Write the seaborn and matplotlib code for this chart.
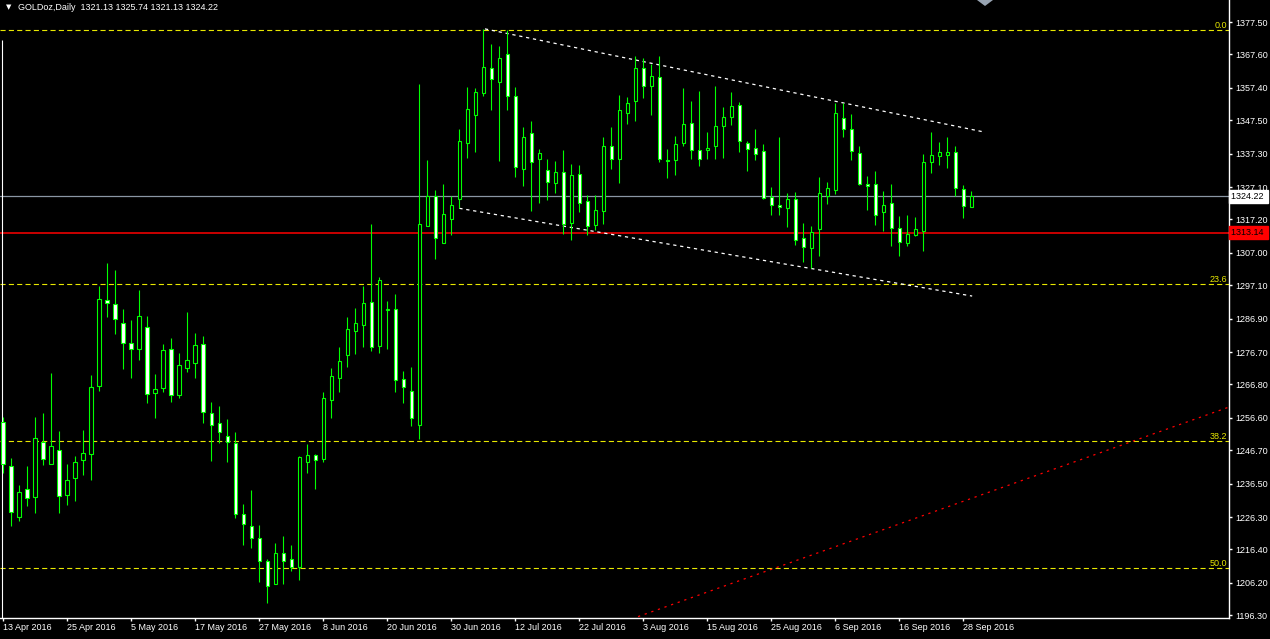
import numpy as np
import pandas as pd
import matplotlib
matplotlib.use("Agg")
import matplotlib.pyplot as plt
import matplotlib.transforms as mtransforms
from matplotlib.patches import Polygon
from matplotlib import font_manager
import seaborn as sns

# ---------------- data ----------------
symbol_title = "GOLDoz,Daily  1321.13 1325.74 1321.13 1324.22"
start_date = "2016-04-13"

open_ = [1255.24, 1241.80, 1226.43, 1234.78, 1232.33, 1249.33, 1242.41, 1246.69, 1232.95, 1238.14,
         1243.84, 1245.47, 1266.24, 1292.50, 1291.28, 1285.47, 1279.37, 1277.53, 1284.46, 1264.10,
         1265.62, 1277.53, 1263.49, 1271.73, 1273.26, 1279.06, 1257.99, 1254.93, 1250.97, 1248.83,
         1227.14, 1223.48, 1219.81, 1212.79, 1205.76, 1215.23, 1213.40, 1210.96, 1243.02, 1245.16,
         1243.94, 1261.96, 1268.68, 1275.70, 1283.03, 1284.86, 1291.89, 1278.45, 1289.60, 1289.75,
         1268.37, 1264.91, 1254.32, 1315.30, 1324.30, 1310.10, 1317.40, 1323.34, 1340.65, 1349.20,
         1355.71, 1363.35, 1359.07, 1367.73, 1354.80, 1332.71, 1343.50, 1335.76, 1332.20, 1328.23,
         1331.59, 1316.01, 1330.98, 1322.73, 1315.40, 1319.68, 1339.53, 1335.56, 1349.61, 1353.27,
         1363.35, 1357.85, 1360.60, 1335.25, 1335.25, 1340.45, 1346.55, 1338.31, 1338.31, 1339.53,
         1345.64, 1348.39, 1352.05, 1340.45, 1338.92, 1338.00, 1323.95, 1321.51, 1320.59, 1323.34,
         1311.43, 1308.38, 1314.18, 1324.26, 1326.09, 1348.08, 1344.72, 1337.39, 1327.92, 1327.92,
         1319.37, 1322.12, 1314.48, 1309.90, 1312.35, 1313.57, 1334.64, 1336.47, 1336.78, 1337.70,
         1326.40, 1321.13]
high = [1256.97, 1244.24, 1236.10, 1241.90, 1256.77, 1257.99, 1270.20, 1252.49, 1242.51, 1244.96,
        1252.90, 1269.59, 1296.98, 1303.90, 1301.76, 1289.85, 1286.49, 1295.55, 1287.71, 1269.90,
        1279.06, 1280.89, 1276.31, 1288.93, 1282.42, 1281.50, 1261.35, 1260.23, 1256.26, 1252.29,
        1230.30, 1234.57, 1223.89, 1213.40, 1218.39, 1220.53, 1217.78, 1245.06, 1248.52, 1245.50,
        1264.40, 1271.73, 1278.25, 1287.41, 1290.16, 1296.88, 1315.80, 1299.62, 1292.30, 1294.43,
        1270.92, 1272.14, 1358.56, 1335.35, 1326.19, 1328.02, 1324.36, 1344.82, 1357.65, 1357.24,
        1375.26, 1370.78, 1370.07, 1375.06, 1357.55, 1345.43, 1347.26, 1338.61, 1335.56, 1334.95,
        1338.41, 1334.13, 1333.83, 1324.56, 1324.56, 1342.38, 1345.33, 1355.10, 1354.70, 1367.22,
        1366.40, 1364.57, 1367.01, 1338.61, 1342.68, 1357.24, 1353.37, 1356.43, 1343.80, 1357.85,
        1351.44, 1356.02, 1352.97, 1341.05, 1344.72, 1340.14, 1327.01, 1342.28, 1325.18, 1325.48,
        1316.01, 1315.10, 1330.06, 1328.53, 1352.66, 1352.66, 1349.40, 1339.53, 1330.36, 1331.99,
        1325.78, 1327.92, 1318.15, 1318.45, 1317.84, 1337.08, 1343.80, 1340.75, 1342.28, 1339.53,
        1327.62, 1325.74]
low = [1239.87, 1223.68, 1225.21, 1229.69, 1227.65, 1242.21, 1242.41, 1227.45, 1229.99, 1231.32,
       1239.15, 1237.63, 1264.91, 1287.51, 1282.32, 1271.63, 1268.88, 1274.38, 1261.25, 1256.67,
       1264.60, 1261.55, 1262.77, 1270.71, 1268.88, 1255.14, 1243.53, 1248.83, 1243.23, 1226.12,
       1217.88, 1216.76, 1206.58, 1199.96, 1205.76, 1205.97, 1209.73, 1206.99, 1239.87, 1234.78,
       1243.02, 1256.67, 1264.60, 1272.24, 1276.21, 1278.35, 1277.13, 1276.52, 1277.74, 1264.60,
       1261.25, 1254.22, 1250.25, 1315.30, 1305.12, 1310.10, 1312.54, 1320.59, 1336.07, 1337.90,
       1355.00, 1350.73, 1335.15, 1350.62, 1330.26, 1327.52, 1319.88, 1322.32, 1323.14, 1325.28,
       1312.65, 1310.82, 1319.47, 1312.35, 1313.87, 1315.70, 1332.50, 1328.23, 1346.25, 1347.16,
       1354.19, 1348.99, 1334.64, 1329.76, 1330.67, 1339.53, 1335.76, 1333.42, 1335.76, 1335.76,
       1335.86, 1345.94, 1337.70, 1331.90, 1335.25, 1323.30, 1318.46, 1318.46, 1314.79, 1309.29,
       1304.10, 1302.27, 1306.14, 1321.81, 1324.87, 1342.48, 1335.45, 1327.62, 1320.18, 1315.60,
       1313.57, 1309.19, 1306.14, 1309.19, 1312.04, 1307.66, 1331.28, 1333.72, 1332.81, 1324.26,
       1317.74, 1321.13]
close = [1242.51, 1227.75, 1233.86, 1232.03, 1250.35, 1243.94, 1247.91, 1232.64, 1237.53, 1243.02,
         1245.77, 1265.93, 1292.80, 1291.58, 1286.70, 1279.37, 1277.53, 1287.61, 1263.79, 1265.32,
         1277.23, 1263.49, 1272.65, 1274.17, 1278.76, 1258.29, 1254.32, 1252.18, 1249.13, 1227.14,
         1224.09, 1219.81, 1212.79, 1205.15, 1215.23, 1212.79, 1210.96, 1244.55, 1245.16, 1243.63,
         1262.57, 1269.29, 1273.87, 1283.64, 1285.47, 1291.58, 1278.14, 1298.61, 1289.70, 1268.07,
         1265.93, 1256.46, 1315.70, 1324.30, 1311.44, 1318.86, 1321.60, 1341.05, 1350.83, 1356.02,
         1363.76, 1360.00, 1366.40, 1355.00, 1333.11, 1342.28, 1334.64, 1337.39, 1328.53, 1331.59,
         1315.70, 1330.67, 1322.12, 1315.10, 1319.98, 1339.53, 1335.56, 1350.52, 1352.86, 1363.35,
         1357.85, 1360.91, 1335.56, 1334.95, 1340.14, 1346.25, 1338.31, 1335.56, 1338.92, 1345.64,
         1348.39, 1351.75, 1341.05, 1338.61, 1337.09, 1323.65, 1321.51, 1320.90, 1323.34, 1310.82,
         1308.68, 1313.26, 1325.17, 1326.70, 1349.60, 1344.72, 1338.00, 1327.92, 1327.31, 1318.45,
         1321.51, 1314.48, 1310.21, 1312.65, 1314.18, 1334.64, 1336.78, 1337.70, 1337.70, 1326.70,
         1321.20, 1324.22]

price_ticks = [1377.50, 1367.60, 1357.40, 1347.50, 1337.30, 1327.10, 1317.20, 1307.00, 1297.10,
               1286.90, 1276.70, 1266.80, 1256.60, 1246.70, 1236.50, 1226.30, 1216.40, 1206.20, 1196.30]
date_tick_every = 8

fib_high = 1375.06
fib_low = 1046.45
fib_levels = [0.0, 23.6, 38.2, 50.0]
bid_price = 1324.22
red_level = 1313.14

# drawn objects (bar index, price)
upper_channel_x = [60.2, 122.6]
upper_channel_y = [1375.4, 1343.9]
lower_channel_x = [57.0, 121.1]
lower_channel_y = [1320.6, 1293.8]
red_trend_x = [79.34, 153.2]
red_trend_y = [1195.9, 1259.9]

# ---------------- style ----------------
sns.set_theme(style="dark")
names = {f.name for f in font_manager.fontManager.ttflist}
if "Liberation Sans Narrow" in names:
    base_font, fsize = "Liberation Sans Narrow", 7.3
else:
    base_font, fsize = "Liberation Sans", 6.5
plt.rcParams["font.family"] = [base_font, "DejaVu Sans"]

GREEN = "#00ff00"
YELLOW = "#e8e800"
PX = 0.72  # one pixel in points at dpi 100

df = pd.DataFrame({"open": open_, "high": high, "low": low, "close": close})
df["date"] = pd.bdate_range(start_date, periods=len(df))
df["x"] = np.arange(len(df))
df["bull"] = df["close"] >= df["open"]

W, H = 1270, 639
fig = plt.figure(figsize=(W / 100, H / 100), dpi=100, facecolor="black")
ax_bottom_px = 617.5
ax_right_px = 1229
ax = fig.add_axes([0, (H - ax_bottom_px) / H, ax_right_px / W, ax_bottom_px / H])
ax.set_facecolor("black")
ax.grid(False)

ax.set_xlim(-0.41, 153.2)
ax.set_ylim(1195.63, 1384.22)

# fib levels
fib_tr = mtransforms.blended_transform_factory(ax.transAxes, ax.transData)
for lvl in fib_levels:
    yv = fib_high - (fib_high - fib_low) * lvl / 100.0
    ax.axhline(yv, color=YELLOW, lw=0.8, linestyle=(0, (4.6, 2.9)), zorder=1)
    ax.text(1 - 2 / ax_right_px, yv, f"{lvl:.1f}", color=YELLOW, fontsize=fsize,
            ha="right", va="bottom", transform=fib_tr, zorder=6)

# bid and red horizontal lines
ax.axhline(bid_price, color="#8a96a3", lw=0.9, zorder=1)
ax.axhline(red_level, color="#ff0000", lw=1.1, zorder=1)

# left vertical line
ax.vlines(-0.16, 1195.63, 1372.0, color="white", lw=0.8, zorder=1)

# channel lines & trend
sns.lineplot(x=upper_channel_x, y=upper_channel_y, ax=ax, color="white", lw=0.9,
             linestyle=(0, (2.6, 3.0)), zorder=2)
sns.lineplot(x=lower_channel_x, y=lower_channel_y, ax=ax, color="white", lw=0.9,
             linestyle=(0, (2.6, 3.0)), zorder=2)
sns.lineplot(x=red_trend_x, y=red_trend_y, ax=ax, color="#ff0000", lw=0.9,
             linestyle=(0, (1.8, 3.8)), zorder=2)

# candles
ax.vlines(df["x"], df["low"], df["high"], color=GREEN, lw=1.1 * PX, zorder=3)
body_bottom = df[["open", "close"]].min(axis=1)
body_height = (df["close"] - df["open"]).abs().clip(lower=0.05)
ax.bar(df["x"], body_height, bottom=body_bottom, width=0.45,
       color=np.where(df["bull"], "black", "white"), edgecolor=GREEN,
       linewidth=1.1 * PX, zorder=4)

# axes styling
for s in ["top", "left"]:
    ax.spines[s].set_visible(False)
for s in ["right", "bottom"]:
    ax.spines[s].set_visible(True)
    ax.spines[s].set_color("white")
    ax.spines[s].set_linewidth(1.0)

ax.yaxis.tick_right()
ax.set_yticks(price_ticks)
ax.set_yticklabels([f"{v:.2f}" for v in price_ticks])
tick_idx = df["x"][::date_tick_every]
ax.set_xticks(tick_idx)
ax.set_xticklabels([f"{d.day} {d.strftime('%b %Y')}" for d in df["date"][::date_tick_every]],
                   ha="left")
ax.tick_params(axis="y", which="both", direction="out", length=3 * PX, width=1.0,
               colors="white", labelsize=fsize, pad=2.2, right=True, left=False)
ax.tick_params(axis="x", which="both", direction="out", length=3 * PX, width=1.0,
               colors="white", labelsize=fsize, pad=1.5, bottom=True)
for lab in ax.get_xticklabels():
    lab.set_horizontalalignment("left")
ax.set_xlabel("")
ax.set_ylabel("")

# price boxes on the axis
box_x = 1 + 2 / ax_right_px
ax.text(box_x, bid_price, f"{bid_price:.2f} ", color="black", fontsize=fsize, ha="left",
        va="center", transform=fib_tr, clip_on=False, zorder=7,
        bbox=dict(boxstyle="square,pad=0.25", facecolor="white", edgecolor="white"))
ax.text(box_x, red_level, f"{red_level:.2f} ", color="black", fontsize=fsize, ha="left",
        va="center", transform=fib_tr, clip_on=False, zorder=7,
        bbox=dict(boxstyle="square,pad=0.25", facecolor="#ff0000", edgecolor="#ff0000"))

# title
fig.text(6 / W, 1 - 7.5 / H, "\u25bc", color="white", fontsize=5.0, va="center",
         ha="left", family=["DejaVu Sans"])
fig.text(18 / W, 1 - 7.5 / H, symbol_title, color="white", fontsize=fsize, va="center", ha="left")

# chart-shift marker
fig.patches.append(Polygon([[977 / W, 1.0], [993 / W, 1.0], [985 / W, 1 - 6 / H]], closed=True,
                           transform=fig.transFigure, facecolor="#98a4b2", edgecolor="none"))

fig.savefig("out.png", dpi=100, facecolor="black")
